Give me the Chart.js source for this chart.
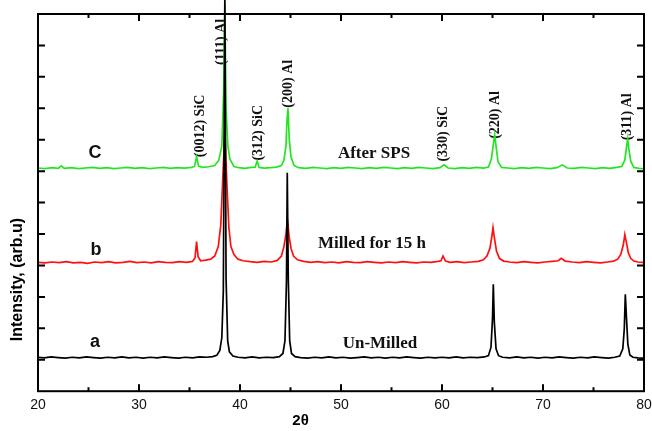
<!doctype html>
<html>
<head>
  <meta charset="utf-8">
  <title>XRD patterns</title>
  <style>
    html, body { margin:0; padding:0; background:#fff; }
    #wrap { width:652px; height:431px; }
  </style>
  <script src="https://cdn.jsdelivr.net/npm/chart.js"></script>
</head>
<body>
  <div id="wrap"><canvas id="xrd" width="652" height="431"></canvas></div>

  <script>
    // 2theta / intensity pairs (intensity in arbitrary offset units)
    const unMilled = [
      [20,1.08],[20.6,1.06],[21.3,1.09],[22.0,1.07],[22.7,1.05],[23.4,1.08],[24.1,1.06],[24.8,1.09],
      [25.5,1.07],[26.2,1.05],[26.9,1.08],[27.6,1.06],[28.3,1.09],[29.0,1.06],[29.7,1.08],[30.4,1.05],
      [31.1,1.08],[31.8,1.06],[32.5,1.09],[33.2,1.07],[33.9,1.05],[34.6,1.08],[35.3,1.06],[36.0,1.09],
      [36.7,1.08],[37.3,1.10],[37.7,1.14],[38.0,1.3],[38.2,1.7],[38.35,3.2],[38.5,12.6],[38.62,3.6],
      [38.78,1.6],[38.95,1.25],[39.3,1.12],[39.8,1.08],[40.5,1.06],[41.2,1.09],[41.9,1.06],[42.6,1.08],
      [43.3,1.07],[43.9,1.1],[44.25,1.2],[44.45,1.6],[44.6,3.5],[44.68,6.95],[44.78,3.6],[44.92,1.6],
      [45.1,1.2],[45.45,1.1],[46.0,1.07],[46.7,1.05],[47.4,1.08],[48.1,1.06],[48.8,1.09],[49.5,1.06],
      [50.2,1.08],[50.9,1.05],[51.6,1.07],[52.3,1.09],[53.0,1.06],[53.7,1.08],[54.4,1.05],[55.1,1.08],
      [55.8,1.06],[56.5,1.09],[57.2,1.07],[57.9,1.05],[58.6,1.08],[59.3,1.06],[60.0,1.08],[60.7,1.06],
      [61.4,1.09],[62.1,1.06],[62.8,1.08],[63.5,1.07],[64.2,1.09],[64.6,1.13],[64.85,1.4],[65.0,2.3],
      [65.08,3.4],[65.18,2.2],[65.35,1.35],[65.6,1.13],[66.0,1.08],[66.7,1.06],[67.4,1.09],[68.1,1.06],
      [68.8,1.08],[69.5,1.05],[70.2,1.08],[70.9,1.06],[71.6,1.09],[72.3,1.07],[73.0,1.05],[73.7,1.08],
      [74.4,1.06],[75.1,1.09],[75.8,1.07],[76.5,1.05],[77.1,1.08],[77.6,1.12],[77.9,1.35],[78.05,2.0],
      [78.15,3.08],[78.27,2.3],[78.4,1.5],[78.6,1.15],[78.9,1.08],[79.4,1.06],[80,1.05]
    ];

    const milled15h = [
      [20,4.1],[20.7,4.08],[21.4,4.11],[22.1,4.09],[22.8,4.12],[23.5,4.08],[24.2,4.1],[24.9,4.07],
      [25.6,4.11],[26.3,4.09],[27.0,4.12],[27.7,4.08],[28.4,4.1],[29.1,4.13],[29.8,4.09],[30.5,4.11],
      [31.2,4.08],[31.9,4.12],[32.6,4.1],[33.3,4.09],[34.0,4.12],[34.7,4.1],[35.3,4.13],[35.55,4.25],
      [35.7,4.76],[35.85,4.28],[36.1,4.15],[36.6,4.17],[37.1,4.2],[37.5,4.3],[37.85,4.6],[38.1,5.3],
      [38.3,6.8],[38.5,8.3],[38.7,6.6],[38.9,5.2],[39.1,4.6],[39.4,4.35],[39.8,4.2],[40.3,4.15],
      [41.0,4.12],[41.7,4.1],[42.4,4.13],[43.1,4.11],[43.7,4.16],[44.1,4.3],[44.35,4.6],[44.55,5.0],
      [44.7,5.46],[44.85,4.95],[45.05,4.55],[45.3,4.3],[45.7,4.18],[46.3,4.13],[47.0,4.1],[47.7,4.12],
      [48.4,4.09],[49.1,4.11],[49.8,4.08],[50.5,4.12],[51.2,4.1],[51.9,4.09],[52.6,4.12],[53.3,4.1],
      [54.0,4.08],[54.7,4.11],[55.4,4.09],[56.1,4.12],[56.8,4.1],[57.5,4.08],[58.2,4.11],[58.9,4.1],
      [59.6,4.13],[59.9,4.15],[60.1,4.3],[60.35,4.14],[60.8,4.1],[61.5,4.12],[62.2,4.09],[62.9,4.11],
      [63.6,4.13],[64.1,4.18],[64.45,4.3],[64.75,4.55],[64.95,4.95],[65.05,5.2],[65.2,4.85],[65.4,4.45],
      [65.7,4.22],[66.1,4.14],[66.7,4.11],[67.4,4.09],[68.1,4.12],[68.8,4.1],[69.5,4.08],[70.2,4.11],
      [70.9,4.13],[71.5,4.15],[71.8,4.23],[72.2,4.14],[72.9,4.11],[73.6,4.09],[74.3,4.12],[75.0,4.1],
      [75.7,4.08],[76.4,4.11],[77.0,4.14],[77.4,4.2],[77.7,4.35],[77.95,4.65],[78.1,4.98],[78.25,4.75],
      [78.45,4.4],[78.7,4.22],[79.0,4.14],[79.4,4.11],[80,4.09]
    ];

    const afterSPS = [
      [20,7.1],[20.7,7.08],[21.4,7.11],[22.0,7.09],[22.3,7.17],[22.6,7.09],[23.3,7.11],[24.0,7.08],
      [24.7,7.1],[25.4,7.12],[26.1,7.09],[26.8,7.11],[27.5,7.08],[28.2,7.1],[28.9,7.12],[29.6,7.09],
      [30.3,7.11],[31.0,7.08],[31.7,7.1],[32.4,7.12],[33.1,7.09],[33.8,7.11],[34.5,7.1],[35.2,7.12],
      [35.5,7.15],[35.7,7.46],[35.9,7.16],[36.3,7.12],[36.9,7.14],[37.5,7.18],[37.9,7.35],[38.2,7.8],
      [38.38,9.5],[38.5,12.3],[38.62,9.0],[38.8,7.8],[39.0,7.38],[39.4,7.15],[39.9,7.11],[40.5,7.09],
      [41.1,7.12],[41.5,7.13],[41.7,7.32],[41.9,7.12],[42.4,7.1],[43.0,7.11],[43.6,7.13],[44.1,7.18],
      [44.35,7.35],[44.55,7.8],[44.65,8.6],[44.75,9.0],[44.88,8.0],[45.05,7.45],[45.35,7.18],[45.8,7.11],
      [46.5,7.09],[47.2,7.12],[47.9,7.1],[48.6,7.08],[49.3,7.11],[50.0,7.09],[50.7,7.12],[51.4,7.1],
      [52.1,7.08],[52.8,7.11],[53.5,7.09],[54.2,7.12],[54.9,7.1],[55.6,7.08],[56.3,7.11],[57.0,7.09],
      [57.7,7.12],[58.4,7.1],[59.1,7.08],[59.8,7.11],[60.2,7.2],[60.6,7.1],[61.3,7.08],[62.0,7.11],
      [62.7,7.09],[63.4,7.12],[64.1,7.1],[64.6,7.13],[64.9,7.4],[65.1,7.9],[65.22,8.16],[65.35,7.8],
      [65.55,7.3],[65.9,7.12],[66.5,7.1],[67.2,7.08],[67.9,7.11],[68.6,7.09],[69.3,7.12],[70.0,7.1],
      [70.7,7.08],[71.4,7.11],[71.9,7.2],[72.4,7.1],[73.1,7.09],[73.8,7.12],[74.5,7.1],[75.2,7.08],
      [75.9,7.11],[76.6,7.09],[77.3,7.12],[77.8,7.15],[78.1,7.35],[78.28,7.8],[78.38,8.02],[78.5,7.7],
      [78.7,7.3],[79.0,7.12],[79.5,7.09],[80,7.08]
    ];

    const xTicks = [20, 30, 40, 50, 60, 70, 80];

    // reflection labels: text, 2theta, intensity at the label centre
    const peakLabels = [
      ['(0012) SiC', 36.04, 8.44],
      ['(111) Al', 38.12, 11.11],
      ['(312) SiC', 41.78, 8.22],
      ['(200) Al', 44.75, 9.78],
      ['(330) SiC', 60.1, 8.19],
      ['(220) Al', 65.25, 8.79],
      ['(311) Al', 78.32, 8.73]
    ];
    const curveLetters = [['a', 25.64, 1.56], ['b', 25.74, 4.48], ['C', 25.64, 7.59]];
    const curveNames = [['Un-Milled', 53.86, 1.52], ['Milled for 15 h', 53.07, 4.70], ['After SPS', 53.27, 7.56]];

    const toXY = arr => arr.map(p => ({ x: p[0], y: p[1] }));

    const decor = {
      id: 'decor',
      beforeDatasetsDraw(chart) {
        const ctx = chart.ctx, xs = chart.scales.x, ys = chart.scales.y;
        ctx.save();
        ctx.fillStyle = '#111';
        ctx.textBaseline = 'middle';
        ctx.textAlign = 'center';
        ctx.font = 'bold 14px "Liberation Serif", serif';
        peakLabels.forEach(([t, x, y]) => {
          ctx.save();
          ctx.translate(xs.getPixelForValue(x), ys.getPixelForValue(y));
          ctx.rotate(-Math.PI / 2);
          ctx.fillText(t, 0, 0);
          ctx.restore();
        });
        ctx.font = 'bold 17px "Liberation Serif", serif';
        curveNames.forEach(([t, x, y]) => ctx.fillText(t, xs.getPixelForValue(x), ys.getPixelForValue(y)));
        ctx.font = 'bold 18px "Liberation Sans", Arial, sans-serif';
        curveLetters.forEach(([t, x, y]) => ctx.fillText(t, xs.getPixelForValue(x), ys.getPixelForValue(y)));
        ctx.restore();
      },
      afterDatasetsDraw(chart) {
        const ctx = chart.ctx, xs = chart.scales.x, ys = chart.scales.y;
        const a = chart.chartArea;
        ctx.save();
        ctx.strokeStyle = '#000';
        ctx.lineWidth = 2;
        ctx.strokeRect(a.left, a.top, a.right - a.left, a.bottom - a.top);
        ctx.beginPath();
        for (let v = 25; v < 80; v += 5) {
          const px = xs.getPixelForValue(v);
          const len = v % 10 === 0 ? 7 : 4;
          ctx.moveTo(px, a.bottom); ctx.lineTo(px, a.bottom - len);
          ctx.moveTo(px, a.top); ctx.lineTo(px, a.top + len);
        }
        for (let v = 1; v < 12; v++) {
          const py = ys.getPixelForValue(v);
          ctx.moveTo(a.left, py); ctx.lineTo(a.left + 7, py);
          ctx.moveTo(a.right, py); ctx.lineTo(a.right - 7, py);
        }
        ctx.stroke();

        ctx.fillStyle = '#000';
        ctx.textAlign = 'center';
        ctx.textBaseline = 'middle';
        ctx.font = 'bold 15px "Liberation Sans", Arial, sans-serif';
        ctx.fillText('2θ', xs.getPixelForValue(46), a.bottom + 30);
        ctx.save();
        ctx.translate(18, ys.getPixelForValue(3.55));
        ctx.rotate(-Math.PI / 2);
        ctx.font = 'bold 16px "Liberation Sans", Arial, sans-serif';
        ctx.fillText('Intensity, (arb.u)', 0, 0);
        ctx.restore();
        ctx.restore();
      }
    };

    const lineStyle = { showLine: true, pointRadius: 0, borderWidth: 1.7, tension: 0, clip: false, fill: false };

    new Chart(document.getElementById('xrd'), {
      type: 'scatter',
      data: {
        datasets: [
          { label: 'Un-Milled', data: toXY(unMilled), borderColor: '#000000', ...lineStyle },
          { label: 'Milled for 15 h', data: toXY(milled15h), borderColor: '#ff1010', ...lineStyle },
          { label: 'After SPS', data: toXY(afterSPS), borderColor: '#22e622', ...lineStyle }
        ]
      },
      options: {
        responsive: false,
        animation: false,
        events: [],
        layout: { padding: { left: 38, right: 8, top: 14, bottom: 11 } },
        plugins: { legend: { display: false }, tooltip: { enabled: false } },
        scales: {
          x: {
            type: 'linear', min: 20, max: 80,
            grid: { display: false, drawTicks: false },
            border: { display: false },
            afterBuildTicks: s => { s.ticks = xTicks.map(v => ({ value: v })); },
            afterFit: s => { s.paddingLeft = 0; s.paddingRight = 0; },
            ticks: { color: '#111', padding: 6, font: { family: '"Liberation Sans", Arial, sans-serif', size: 14 } }
          },
          y: { type: 'linear', min: 0, max: 12, display: false }
        }
      },
      plugins: [decor]
    });
  </script>
</body>
</html>
